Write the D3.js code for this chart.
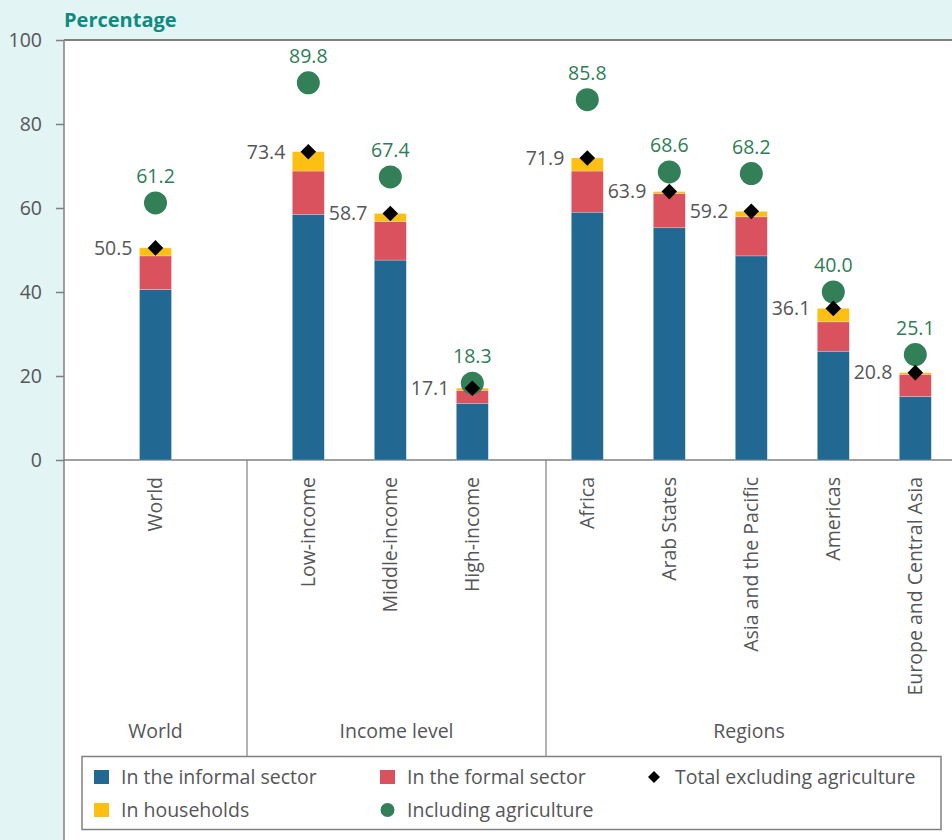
<!DOCTYPE html>
<html lang="en">
<head>
<meta charset="utf-8" />
<title>Informal employment share</title>
<script src="https://cdn.jsdelivr.net/npm/d3@7"></script>
<style>
  body {
    margin: 0;
    background: #e2f4f4;
    font-family: 'Open Sans', 'Noto Sans', Arial, sans-serif;
  }
  svg { display: block; }
  .lbl { fill: #555658; font-size: 19.5px; }
  .green { fill: #2f7d57; font-size: 19.5px; }
</style>
</head>
<body>
<div id="chart"></div>
<script>
// data
var categories = ["World", "Low-income", "Middle-income", "High-income",
  "Africa", "Arab States", "Asia and the Pacific", "Americas", "Europe and Central Asia"];
var groupOf = ["World", "Income level", "Income level", "Income level",
  "Regions", "Regions", "Regions", "Regions", "Regions"];
var groups = ["World", "Income level", "Regions"];

var informal   = [40.6, 58.5, 47.6, 13.5, 59.0, 55.3, 48.6, 25.9, 15.1];
var formal     = [ 8.0, 10.3,  9.2,  3.1,  9.8,  8.2,  9.3,  7.0,  5.3];
var households = [ 1.9,  4.6,  1.9,  0.5,  3.1,  0.4,  1.3,  3.2,  0.4];
var totalExAgri = [50.5, 73.4, 58.7, 17.1, 71.9, 63.9, 59.2, 36.1, 20.8];
var inclAgri    = [61.2, 89.8, 67.4, 18.3, 85.8, 68.6, 68.2, 40.0, 25.1];

var yTicks = [0, 20, 40, 60, 80, 100];
var stackKeys = ["informal", "formal", "households"];
var stackNames = ["In the informal sector", "In the formal sector", "In households"];

var width = 952, height = 840;
var plotLeft = 64, plotTop = 40, plotBottom = 460;
var groupEdges = [64, 247, 546, 952];
var groupAlign = [0.5, 0.44, 0.55];
var step = 82;

var colors = {
  informal: "#216892",
  formal: "#d9525e",
  households: "#fdbf12",
  green: "#337f58",
  axis: "#808080",
  text: "#58595b"
};

var rows = categories.map(function(c, i) {
  return {cat: c, group: groupOf[i], informal: informal[i], formal: formal[i],
          households: households[i], total: totalExAgri[i], agri: inclAgri[i]};
});

var y = d3.scaleLinear().domain([0, 100]).range([plotBottom, plotTop]);

// one band scale per group
var xScales = {};
groups.forEach(function(g, gi) {
  var cats = rows.filter(function(r) { return r.group === g; }).map(function(r) { return r.cat; });
  var w = groupEdges[gi + 1] - groupEdges[gi];
  var po = (w / step - cats.length + 0.61) / 2;
  xScales[g] = d3.scaleBand().domain(cats)
    .range([groupEdges[gi], groupEdges[gi + 1]])
    .paddingInner(0.61).paddingOuter(po).align(groupAlign[gi]);
});
function xc(r) { var s = xScales[r.group]; return s(r.cat) + s.bandwidth() / 2; }
function bw(r) { return xScales[r.group].bandwidth(); }

var svg = d3.select("#chart").append("svg")
  .attr("width", width).attr("height", height);

// white plot panel
svg.append("rect").attr("x", plotLeft).attr("y", plotTop)
  .attr("width", width - plotLeft).attr("height", height - plotTop).attr("fill", "#fff");

svg.append("text").attr("x", 64).attr("y", 27)
  .attr("fill", "#0e8a80").attr("font-weight", "bold").attr("font-size", 20)
  .text("Percentage");

// y axis
var yAxis = svg.append("g").attr("transform", "translate(" + plotLeft + ",0)")
  .call(d3.axisLeft(y).tickValues(yTicks).tickSize(8).tickPadding(14));
yAxis.select(".domain").remove();
yAxis.selectAll("line").attr("stroke", colors.axis).attr("stroke-width", 1.5);
yAxis.selectAll("text").attr("class", "lbl");
yAxis.attr("font-family", null).attr("font-size", null);

// frame lines
svg.append("line").attr("x1", plotLeft).attr("x2", plotLeft).attr("y1", plotTop).attr("y2", height)
  .attr("stroke", colors.axis).attr("stroke-width", 1.5);
svg.append("line").attr("x1", plotLeft).attr("x2", width).attr("y1", y(100)).attr("y2", y(100))
  .attr("stroke", colors.axis).attr("stroke-width", 2);
svg.append("line").attr("x1", plotLeft).attr("x2", width).attr("y1", y(0)).attr("y2", y(0))
  .attr("stroke", colors.axis).attr("stroke-width", 1.5);

// group separators
svg.selectAll(".sep").data(groupEdges.slice(1, 3)).enter().append("line")
  .attr("x1", function(d) { return d; }).attr("x2", function(d) { return d; })
  .attr("y1", y(0)).attr("y2", 756)
  .attr("stroke", colors.axis).attr("stroke-width", 1.2);

// stacked bars
var stacked = d3.stack().keys(stackKeys)(rows);
svg.selectAll(".layer").data(stacked).enter().append("g")
  .attr("fill", function(d) { return colors[d.key]; })
  .selectAll("rect").data(function(d) { return d; }).enter().append("rect")
  .attr("x", function(d) { return xc(d.data) - bw(d.data) / 2; })
  .attr("width", function(d) { return bw(d.data); })
  .attr("y", function(d) { return y(d[1]); })
  .attr("height", function(d) { return y(d[0]) - y(d[1]); })
  .attr("stroke", "#fff").attr("stroke-opacity", 0.4).attr("stroke-width", 0.6);

// including agriculture
svg.selectAll(".agri").data(rows).enter().append("circle")
  .attr("cx", xc).attr("cy", function(d) { return y(d.agri); })
  .attr("r", 11.5).attr("fill", colors.green);

svg.selectAll(".agriLbl").data(rows).enter().append("text")
  .attr("class", "green").attr("text-anchor", "middle")
  .attr("x", xc).attr("y", function(d) { return y(d.agri) - 20; })
  .text(function(d) { return d.agri.toFixed(1); });

// total excluding agriculture
var diamond = d3.symbol().type(d3.symbolSquare).size(121);
svg.selectAll(".tot").data(rows).enter().append("path")
  .attr("d", diamond)
  .attr("transform", function(d) { return "translate(" + xc(d) + "," + y(d.total) + ") rotate(45)"; })
  .attr("fill", "#000");

svg.selectAll(".totLbl").data(rows).enter().append("text")
  .attr("class", "lbl").attr("text-anchor", "end")
  .attr("x", function(d) { return xc(d) - 23; })
  .attr("y", function(d) { return y(d.total); }).attr("dy", "0.35em")
  .text(function(d) { return d.total.toFixed(1); });

// category labels
svg.selectAll(".cat").data(rows).enter().append("text")
  .attr("class", "lbl").attr("text-anchor", "end").attr("dy", "0.35em")
  .attr("transform", function(d) { return "translate(" + xc(d) + ",477) rotate(-90)"; })
  .text(function(d) { return d.cat; });

// group labels
svg.selectAll(".grp").data(groups).enter().append("text")
  .attr("class", "lbl").attr("text-anchor", "middle")
  .attr("x", function(d, i) { return (groupEdges[i] + groupEdges[i + 1]) / 2; })
  .attr("y", 738)
  .text(function(d) { return d; });

// legend
var lg = svg.append("g");
lg.append("rect").attr("x", 82).attr("y", 756.5).attr("width", 859).attr("height", 73)
  .attr("fill", "#fff").attr("stroke", colors.axis).attr("stroke-width", 1.5);

var legendItems = [
  {name: stackNames[0], kind: "informal", x: 94, y: 777},
  {name: stackNames[1], kind: "formal", x: 380, y: 777},
  {name: "Total excluding agriculture", kind: "diamond", x: 647, y: 777},
  {name: stackNames[2], kind: "households", x: 94, y: 810},
  {name: "Including agriculture", kind: "circle", x: 380, y: 810}
];
var li = lg.selectAll(".li").data(legendItems).enter().append("g")
  .attr("transform", function(d) { return "translate(" + d.x + "," + d.y + ")"; });
li.each(function(d) {
  var g = d3.select(this);
  if (d.kind === "diamond") {
    g.append("path").attr("d", d3.symbol().type(d3.symbolSquare).size(72))
      .attr("transform", "translate(7,0) rotate(45)").attr("fill", "#000");
  } else if (d.kind === "circle") {
    g.append("circle").attr("cx", 7.5).attr("r", 7).attr("fill", colors.green);
  } else {
    g.append("rect").attr("x", 0).attr("y", -7).attr("width", 15).attr("height", 14)
      .attr("fill", colors[d.kind]);
  }
  g.append("text").attr("class", "lbl").attr("x", d.kind === "diamond" ? 28 : 27)
    .attr("dy", "0.35em").text(d.name);
});
</script>
</body>
</html>
